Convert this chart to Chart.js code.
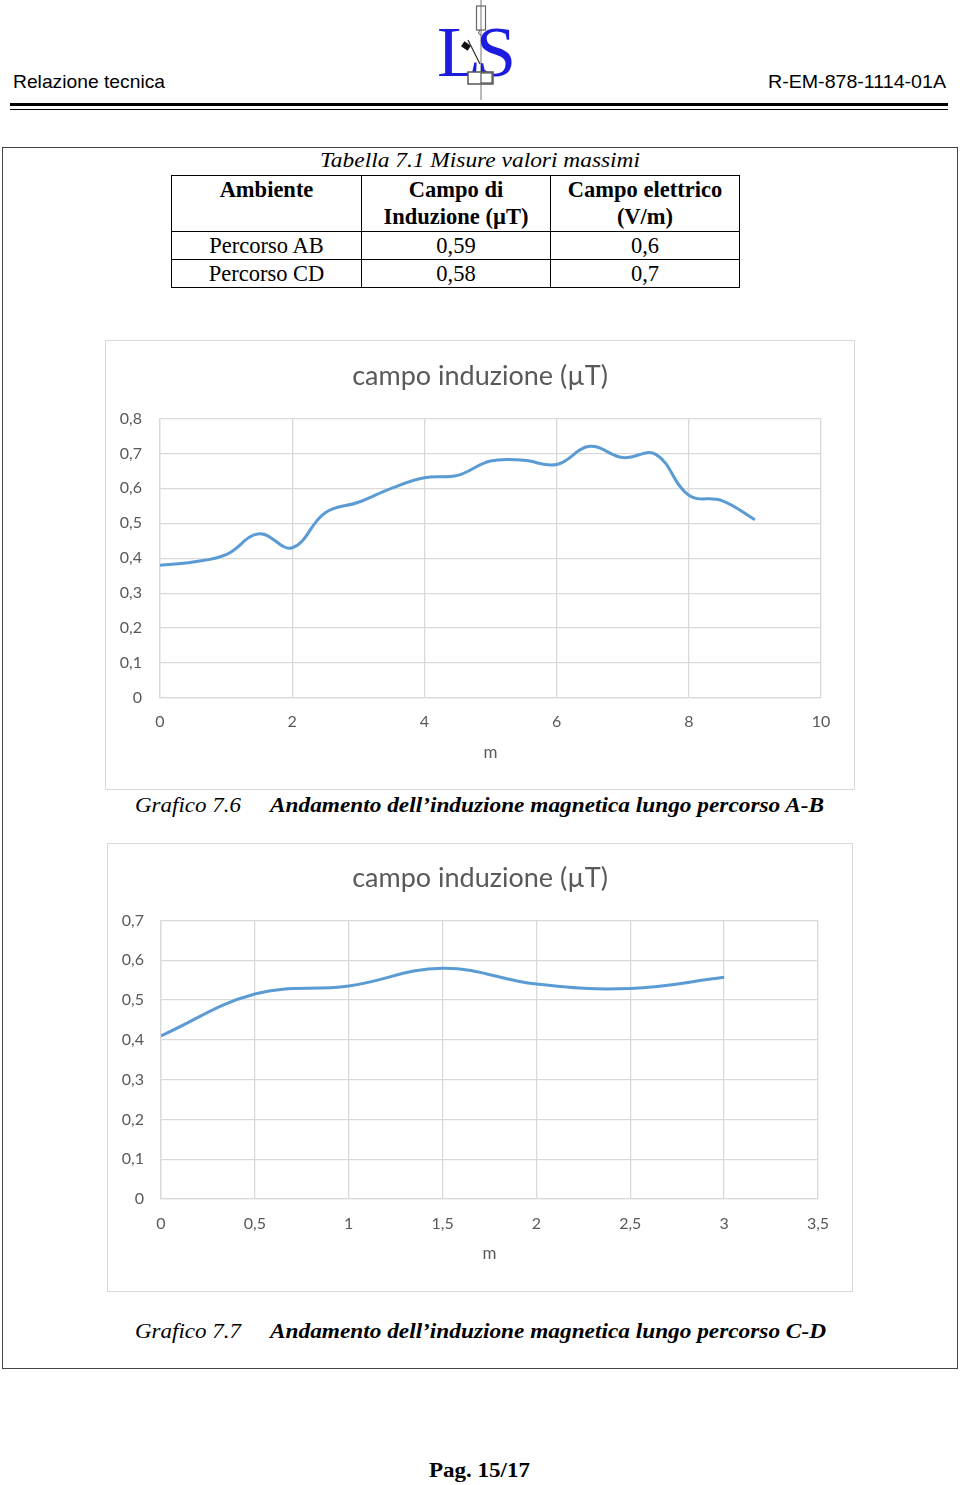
<!DOCTYPE html>
<html>
<head>
<meta charset="utf-8">
<script src="https://cdn.jsdelivr.net/npm/chart.js@4"></script>
<style>
  html, body { margin: 0; padding: 0; background: #fff; }
  body { width: 960px; height: 1485px; position: relative; overflow: hidden; }
  .abs { position: absolute; white-space: nowrap; }
  .fit { display: inline-block; transform-origin: left center; }
  .sans { font-family: "Liberation Sans", Arial, sans-serif; }
  .serif { font-family: "Liberation Serif", "Times New Roman", serif; }
  .rule { position: absolute; left: 10px; width: 938px; background: #000; }
  .frame { position: absolute; left: 2px; top: 147px; width: 954px; height: 1220px; border: 1.5px solid #444; }
  .chartbox { position: absolute; border: 1.5px solid #d9d9d9; box-sizing: border-box; }
  canvas.cv { position: absolute; }
  table.t { position: absolute; left: 171px; top: 175px; border-collapse: collapse;
            font-family: "Liberation Serif", serif; font-size: 22.5px; }
  table.t td { border: 1.3px solid #000; text-align: center; vertical-align: top;
               padding: 0; line-height: 27px; }
</style>
</head>
<body>

<!-- header -->
<div class="abs sans" style="left:13px; top:71px; font-size:19px;"><span class="fit" data-w="152">Relazione tecnica</span></div>
<div class="abs sans" style="left:768px; top:71px; font-size:19px;"><span class="fit" data-w="178">R-EM-878-1114-01A</span></div>
<svg class="abs" style="left:430px; top:0px;" width="105" height="100" viewBox="0 0 105 100">
  <line x1="51" y1="0" x2="51" y2="100" stroke="#777" stroke-width="1"/>
  <rect x="46.5" y="6" width="9" height="24" fill="none" stroke="#666" stroke-width="1.2"/>
  <path d="M50 30 q-3 4 1 5" fill="none" stroke="#444" stroke-width="1"/>
  <text x="7" y="76" font-family="Liberation Serif" font-size="72" fill="#1c1ce0">L</text>
  <text x="46" y="76" font-family="Liberation Serif" font-size="72" fill="#1c1ce0">S</text>
  <rect x="32" y="43" width="8" height="6" fill="#111" transform="rotate(35 36 46)"/>
  <line x1="38" y1="40" x2="50" y2="64" stroke="#333" stroke-width="1.2"/>
  <rect x="38" y="72" width="25" height="12" fill="#fff" stroke="#555" stroke-width="1.5"/>
  <rect x="51" y="73" width="11" height="10" fill="none" stroke="#555" stroke-width="1.2"/>
</svg>
<div class="rule" style="top:103px; height:3px;"></div>
<div class="rule" style="top:108.5px; height:1px;"></div>

<div class="frame"></div>

<!-- table -->
<div class="abs serif" style="left:320px; top:148px; font-size:21px; font-style:italic;"><span class="fit" data-w="320">Tabella 7.1 Misure valori massimi</span></div>
<table class="t">
  <tr style="height:56px; font-weight:bold;">
    <td style="width:189px;">Ambiente</td>
    <td style="width:188px;">Campo di<br>Induzione (µT)</td>
    <td style="width:188px;">Campo elettrico<br>(V/m)</td>
  </tr>
  <tr style="height:28px;"><td>Percorso AB</td><td>0,59</td><td>0,6</td></tr>
  <tr style="height:28px;"><td>Percorso CD</td><td>0,58</td><td>0,7</td></tr>
</table>

<!-- chart 7.6 -->
<div class="chartbox" style="left:105px; top:340px; width:750px; height:450px;"></div>
<canvas id="chartAB" class="cv" style="left:105px; top:340px;" width="750" height="450"></canvas>
<div class="abs serif" style="left:135px; top:793px; font-size:21px; font-style:italic;"><span class="fit" data-w="106">Grafico 7.6</span></div>
<div class="abs serif" style="left:270px; top:793px; font-size:21px; font-style:italic; font-weight:bold;"><span class="fit" data-w="554">Andamento dell’induzione magnetica lungo percorso A-B</span></div>

<!-- chart 7.7 -->
<div class="chartbox" style="left:107px; top:843px; width:746px; height:449px;"></div>
<canvas id="chartCD" class="cv" style="left:107px; top:843px;" width="746" height="449"></canvas>
<div class="abs serif" style="left:135px; top:1319px; font-size:21px; font-style:italic;"><span class="fit" data-w="106">Grafico 7.7</span></div>
<div class="abs serif" style="left:270px; top:1319px; font-size:21px; font-style:italic; font-weight:bold;"><span class="fit" data-w="556">Andamento dell’induzione magnetica lungo percorso C-D</span></div>

<!-- footer -->
<div class="abs serif" style="left:429px; top:1458px; font-size:21px; font-weight:bold;"><span class="fit" data-w="101">Pag. 15/17</span></div>

<script>
// --- DATA ---
const chartTitle = 'campo induzione (µT)';
const axisTitle = 'm';

// percorso A-B (Grafico 7.6)
const abDistance = [0, 0.5, 1, 1.5, 2, 2.5, 3, 3.5, 4, 4.5, 5, 5.5, 6, 6.5, 7, 7.5, 8, 8.5, 9];
const abInduction = [0.38, 0.389, 0.41, 0.47, 0.43, 0.53, 0.56, 0.60, 0.63, 0.637, 0.678, 0.68, 0.668, 0.72, 0.688, 0.697, 0.58, 0.565, 0.51];

// percorso C-D (Grafico 7.7)
const cdDistance = [0, 0.5, 1, 1.5, 2, 2.5, 3];
const cdInduction = [0.41, 0.515, 0.535, 0.58, 0.54, 0.529, 0.557];

// --- text fitting ---
document.querySelectorAll('.fit').forEach(el => {
  const w = el.getBoundingClientRect().width;
  const target = parseFloat(el.dataset.w);
  if (w > 0) el.style.transform = `scaleX(${target / w})`;
});

// --- charts ---
const comma = v => String(Number(v.toFixed(2))).replace('.', ',');

function makeChart(id, xs, ys, cfg) {
  const ctx = document.getElementById(id).getContext('2d');
  return new Chart(ctx, {
    type: 'line',
    data: {
      datasets: [{
        data: xs.map((x, i) => ({ x: x, y: ys[i] })),
        borderColor: '#5b9bd5',
        borderWidth: 3,
        pointRadius: 0,
        tension: 0.4,
        fill: false
      }]
    },
    options: {
      responsive: false,
      animation: false,
      devicePixelRatio: 1,
      layout: { padding: 0 },
      plugins: {
        legend: { display: false },
        tooltip: { enabled: false },
        title: {
          display: true,
          text: chartTitle,
          color: '#595959',
          font: { family: 'Lato', size: 27, weight: 'normal' },
          padding: { top: cfg.titleTop, bottom: cfg.titleBottom }
        }
      },
      scales: {
        x: {
          type: 'linear',
          min: 0, max: cfg.xMax,
          ticks: { stepSize: cfg.xStep, color: '#595959', padding: cfg.xPad,
                   font: { family: 'Lato', size: 16 }, callback: comma, maxRotation: 0 },
          grid: { color: '#d9d9d9', lineWidth: 1.3, drawTicks: false },
          border: { color: '#d9d9d9', width: 1.3 },
          title: { display: true, text: axisTitle, color: '#595959',
                   font: { family: 'Lato', size: 17 }, padding: { top: 0, bottom: cfg.mPad } },
          afterFit: s => { s.height = cfg.xHeight; }
        },
        y: {
          min: 0, max: cfg.yMax,
          ticks: { stepSize: 0.1, color: '#595959', padding: cfg.yPad,
                   font: { family: 'Lato', size: 16 }, callback: comma },
          grid: { color: '#d9d9d9', lineWidth: 1.3, drawTicks: false },
          border: { color: '#d9d9d9', width: 1.3 },
          afterFit: s => { s.width = cfg.left; }
        },
        // empty right-hand axis, only keeps the plot off the right edge
        yRight: {
          position: 'right',
          min: 0, max: cfg.yMax,
          ticks: { display: false },
          grid: { display: false, drawOnChartArea: false },
          border: { display: false },
          afterFit: s => { s.width = cfg.right; }
        }
      }
    }
  });
}

makeChart('chartAB', abDistance, abInduction, {
  left: 55, right: 34, xMax: 10, xStep: 2, yMax: 0.8,
  titleTop: 20, titleBottom: 26, xHeight: 92, xPad: 14, mPad: 27, yPad: 18
});
makeChart('chartCD', cdDistance, cdInduction, {
  left: 54, right: 35, xMax: 3.5, xStep: 0.5, yMax: 0.7,
  titleTop: 19, titleBottom: 26, xHeight: 93, xPad: 15, mPad: 28, yPad: 17
});
</script>
</body>
</html>
